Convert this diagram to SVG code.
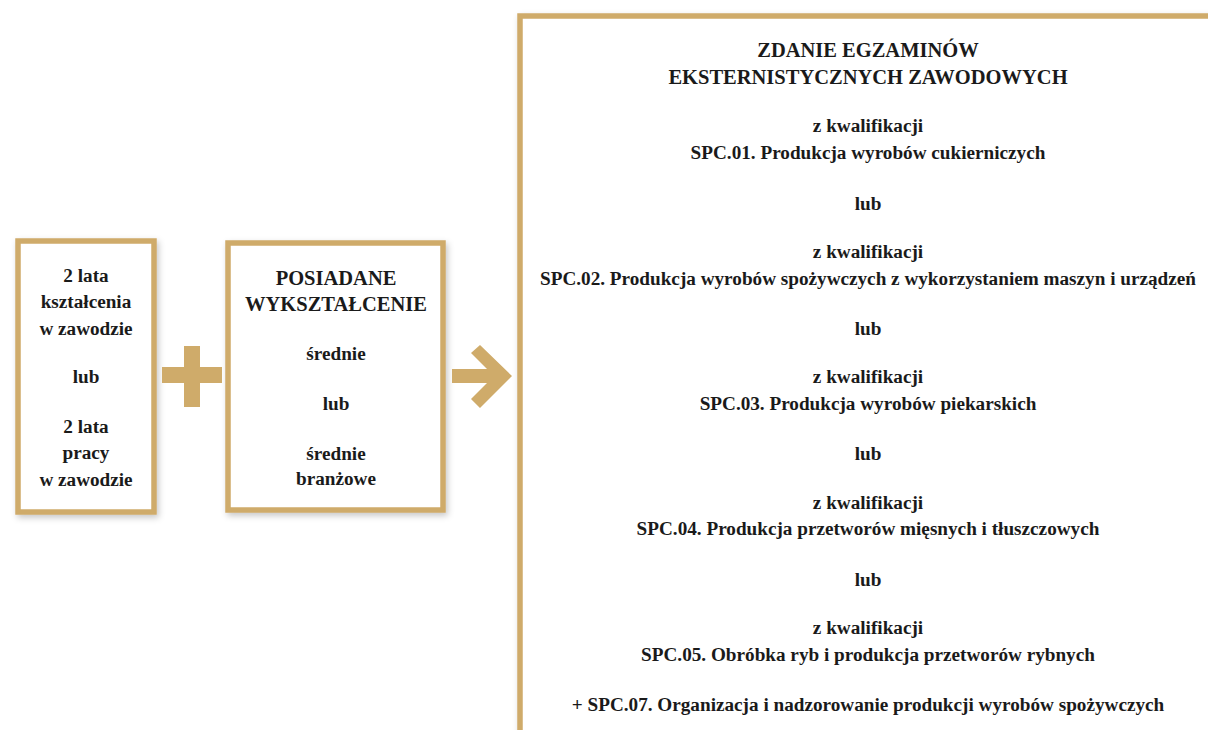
<svg xmlns="http://www.w3.org/2000/svg" width="1208" height="730" viewBox="0 0 1208 730">
<defs>
<filter id="sh" x="-10%" y="-10%" width="130%" height="130%">
<feDropShadow dx="2" dy="3" stdDeviation="3" flood-color="#000" flood-opacity="0.22"/>
</filter>
<style>
.box{fill:#fff;stroke:#CFAB6A;stroke-width:5.5;filter:url(#sh)}
.gold{fill:#CFAB6A}
.t{font-family:'Liberation Serif',serif;font-weight:700;font-size:19.2px;fill:#1a1a1a;text-anchor:middle}
.cap{font-size:20.5px}
</style>
</defs>
<rect width="1208" height="730" fill="#fff"/>
<g id="node-left" class="t" font-family="Liberation Serif, serif">
<rect class="box" x="18" y="241" width="136" height="271"/>
<text x="86" y="282">2 lata</text>
<text x="86" y="308">kształcenia</text>
<text x="86" y="335">w zawodzie</text>
<text x="86" y="383">lub</text>
<text x="86" y="433">2 lata</text>
<text x="86" y="459">pracy</text>
<text x="86" y="486">w zawodzie</text>
</g>
<g id="node-middle" class="t" font-family="Liberation Serif, serif">
<rect class="box" x="228" y="243" width="215" height="267"/>
<text class="cap" x="336" y="285">POSIADANE</text>
<text class="cap" x="336" y="311">WYKSZTAŁCENIE</text>
<text x="336" y="360">średnie</text>
<text x="336" y="410">lub</text>
<text x="336" y="460">średnie</text>
<text x="336" y="485">branżowe</text>
</g>
<g id="node-right" class="t" font-family="Liberation Serif, serif">
<rect class="box" x="520" y="16" width="720" height="740"/>
<text class="cap" x="868" y="57">ZDANIE EGZAMINÓW</text>
<text class="cap" x="868" y="84">EKSTERNISTYCZNYCH ZAWODOWYCH</text>
<text x="868" y="132">z kwalifikacji</text>
<text x="868" y="159">SPC.01. Produkcja wyrobów cukierniczych</text>
<text x="868" y="210">lub</text>
<text x="868" y="258">z kwalifikacji</text>
<text x="868" y="285">SPC.02. Produkcja wyrobów spożywczych z wykorzystaniem maszyn i urządzeń</text>
<text x="868" y="335">lub</text>
<text x="868" y="383">z kwalifikacji</text>
<text x="868" y="410">SPC.03. Produkcja wyrobów piekarskich</text>
<text x="868" y="460">lub</text>
<text x="868" y="509">z kwalifikacji</text>
<text x="868" y="535">SPC.04. Produkcja przetworów mięsnych i tłuszczowych</text>
<text x="868" y="586">lub</text>
<text x="868" y="634">z kwalifikacji</text>
<text x="868" y="661">SPC.05. Obróbka ryb i produkcja przetworów rybnych</text>
<text x="868" y="711">+ SPC.07. Organizacja i nadzorowanie produkcji wyrobów spożywczych</text>
</g>
<g id="connectors">
<g id="plus">
<rect class="gold" x="162" y="367" width="60" height="16"/>
<rect class="gold" x="184" y="346" width="16" height="61"/>
</g>
<g id="arrow">
<rect class="gold" x="452" y="369" width="48" height="14"/>
<polygon class="gold" points="480,345 512,376 480,408 471,399 494,376 471,353"/>
</g>
</g>
</svg>
